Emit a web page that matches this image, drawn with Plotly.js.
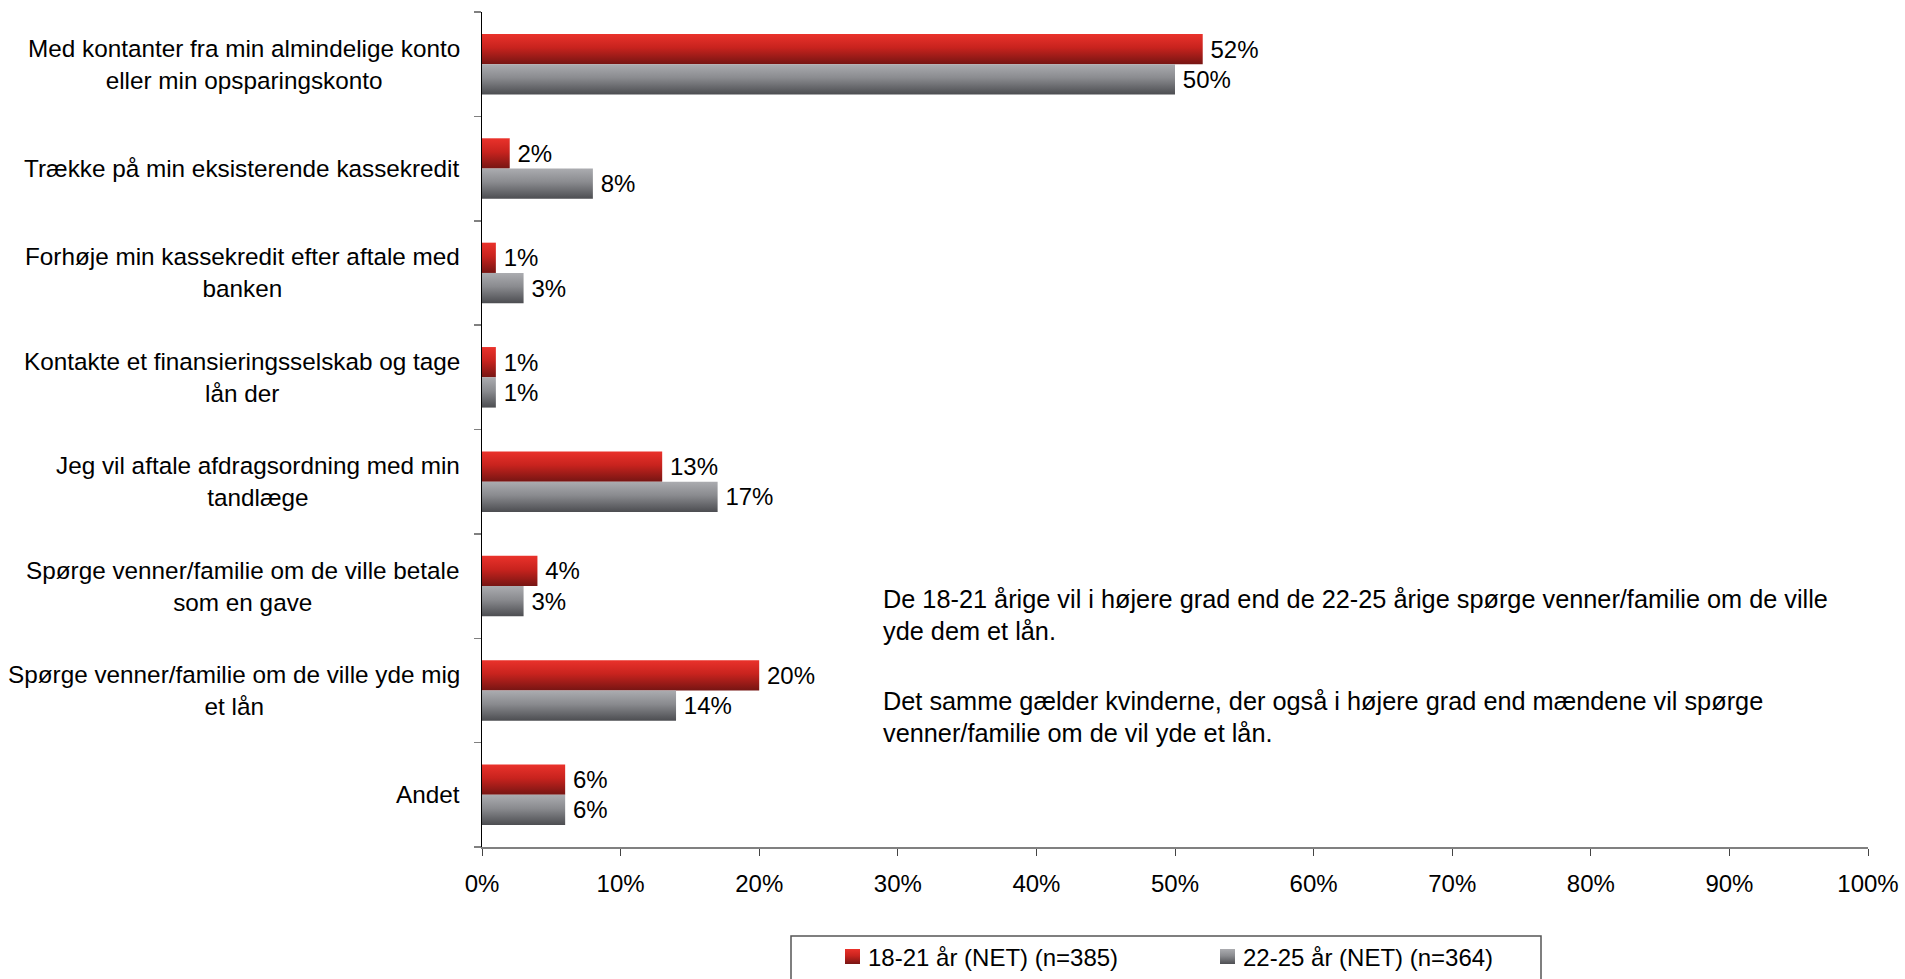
<!DOCTYPE html>
<html>
<head>
<meta charset="utf-8">
<script src="https://cdn.plot.ly/plotly-3.0.1.min.js"></script>
<style>
html,body{margin:0;padding:0;background:#fff;}
#chart{width:1905px;height:979px;}
</style>
</head>
<body>
<div id="chart"></div>
<script>
const categories = [
  "Med kontanter fra min almindelige konto<br>eller min opsparingskonto",
  "Trække på min eksisterende kassekredit",
  "Forhøje min kassekredit efter aftale med<br>banken",
  "Kontakte et finansieringsselskab og tage<br>lån der",
  "Jeg vil aftale afdragsordning med min<br>tandlæge",
  "Spørge venner/familie om de ville betale<br>som en gave",
  "Spørge venner/familie om de ville yde mig<br>et lån",
  "Andet"
];
const seriesNames = ["18-21 år (NET) (n=385)", "22-25 år (NET) (n=364)"];
const values1821 = [52, 2, 1, 1, 13, 4, 20, 6];
const values2225 = [50, 8, 3, 1, 17, 3, 14, 6];
const noteLines = [
  "De 18-21 årige vil i højere grad end de 22-25 årige spørge venner/familie om de ville",
  "yde dem et lån.",
  "Det samme gælder kvinderne, der også i højere grad end mændene vil spørge",
  "venner/familie om de vil yde et lån."
];

const FONT = "Liberation Sans, Arial, sans-serif";
const W = 1905, H = 979;
const L = 482, R = 37, T = 12, B = 132;
const plotW = W - L - R, plotH = H - T - B;
const px2x = p => (p - L) / plotW;
const py2y = p => (H - B - p) / plotH;

const idx = categories.map((c, i) => i);

function barTrace(name, vals, color) {
  return {
    type: "bar", orientation: "h", name: name,
    y: idx, x: vals,
    marker: {color: color, line: {width: 0}},
    text: vals.map(v => "\u2009" + v + "%"), textposition: "outside",
    textfont: {family: FONT, size: 24, color: "#000"},
    constraintext: "none", cliponaxis: false, hoverinfo: "skip"
  };
}
const data = [
  barTrace(seriesNames[0], values1821, "#c0221d"),
  barTrace(seriesNames[1], values2225, "#7d7e82")
];

const annotations = categories.map((c, i) => ({
  xref: "paper", yref: "y", x: 0, y: i, xshift: -20,
  xanchor: "right", yanchor: "middle", align: "center",
  text: c, showarrow: false,
  font: {family: FONT, size: 24.3, color: "#000"}
}));
const noteY = [599, 631, 701, 733];
noteLines.forEach((t, i) => annotations.push({
  xref: "paper", yref: "paper", x: px2x(881), y: py2y(noteY[i]),
  xanchor: "left", yanchor: "middle", align: "left",
  text: t, showarrow: false,
  font: {family: FONT, size: 25.3, color: "#000"}
}));

const layout = {
  width: W, height: H,
  margin: {l: L, r: R, t: T, b: B, pad: 0, autoexpand: false},
  paper_bgcolor: "#fff", plot_bgcolor: "#fff",
  font: {family: FONT, size: 24, color: "#000"},
  barmode: "group", bargap: 0.42, bargroupgap: 0,
  showlegend: true,
  legend: {
    orientation: "h", x: px2x(828), xanchor: "left",
    y: py2y(957), yanchor: "middle",
    entrywidth: 330, entrywidthmode: "pixels",
    font: {family: FONT, size: 24, color: "#000"},
    bgcolor: "rgba(0,0,0,0)", borderwidth: 0, traceorder: "normal"
  },
  xaxis: {
    range: [0, 100], dtick: 10, tick0: 0, ticksuffix: "%",
    ticks: "outside", ticklen: 7, tickcolor: "#444", tickwidth: 1,
    showline: true, linecolor: "#808080", linewidth: 1.5,
    showgrid: false, zeroline: false, ticklabelstandoff: 8,
    tickfont: {family: FONT, size: 24, color: "#000"},
    fixedrange: true
  },
  yaxis: {
    type: "linear", range: [categories.length - 0.5, -0.5],
    tickmode: "array", tickvals: idx.map(i => i + 0.5).concat([-0.5]),
    ticktext: idx.map(() => "").concat([""]),
    ticks: "outside", ticklen: 7, tickcolor: "#808080", tickwidth: 1.5,
    showticklabels: false,
    showline: true, linecolor: "#000", linewidth: 1.5,
    showgrid: false, zeroline: false, fixedrange: true
  },
  annotations: annotations,
  shapes: [{
    type: "rect", xref: "paper", yref: "paper",
    x0: px2x(791), x1: px2x(1541), y0: py2y(936), y1: py2y(992),
    line: {color: "#555", width: 1.5}, fillcolor: "rgba(0,0,0,0)", layer: "below"
  }]
};

const gd = document.getElementById("chart");
Plotly.newPlot(gd, data, layout, {staticPlot: true, displayModeBar: false}).then(() => {
  const ns = "http://www.w3.org/2000/svg";
  const svg = gd.querySelector(".main-svg");
  const defs = document.createElementNS(ns, "defs");
  function grad(id, stops) {
    const g = document.createElementNS(ns, "linearGradient");
    g.setAttribute("id", id);
    g.setAttribute("x1", "0"); g.setAttribute("y1", "0");
    g.setAttribute("x2", "0"); g.setAttribute("y2", "1");
    stops.forEach(s => {
      const st = document.createElementNS(ns, "stop");
      st.setAttribute("offset", s[0]);
      st.setAttribute("stop-color", s[1]);
      g.appendChild(st);
    });
    defs.appendChild(g);
  }
  grad("gradRed", [["0", "#ea322b"], ["0.45", "#c8231e"], ["1", "#761513"]]);
  grad("gradGrey", [["0", "#abacb0"], ["0.45", "#8a8b8f"], ["1", "#4c4d51"]]);
  svg.insertBefore(defs, svg.firstChild);
  const ids = ["url(#gradRed)", "url(#gradGrey)"];
  gd.querySelectorAll(".barlayer .trace").forEach((t, i) => {
    t.querySelectorAll(".point path").forEach(p => { p.style.fill = ids[i]; });
  });
  gd.querySelectorAll(".legend .traces").forEach((t, i) => {
    t.querySelectorAll(".legendpoints path").forEach(p => {
      p.setAttribute("d", "M12,7.5H-3V-7.5H12Z");
      p.style.fill = ids[i];
    });
  });
});
</script>
</body>
</html>
